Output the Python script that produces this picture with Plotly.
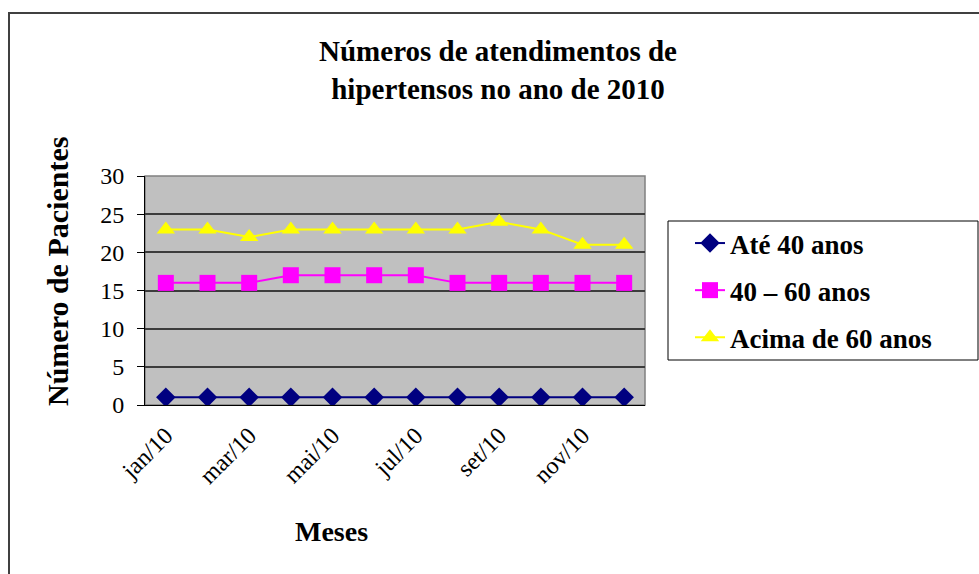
import plotly.graph_objects as go

# Monthly counts of hypertensive patients seen in 2010, by age band
meses = ["jan/10", "fev/10", "mar/10", "abr/10", "mai/10", "jun/10",
         "jul/10", "ago/10", "set/10", "out/10", "nov/10", "dez/10"]
ate_40 = [1, 1, 1, 1, 1, 1, 1, 1, 1, 1, 1, 1]
de_40_a_60 = [16, 16, 16, 17, 17, 17, 17, 16, 16, 16, 16, 16]
acima_60 = [23, 23, 22, 23, 23, 23, 23, 23, 24, 23, 21, 21]

series_names = ["Até 40 anos", "40 – 60 anos", "Acima de 60 anos"]
series_values = [ate_40, de_40_a_60, acima_60]
series_colors = ["#000080", "#FF00FF", "#FFFF00"]
series_symbols = ["diamond", "square", "triangle-up"]
series_sizes = [15, 16, 16]

SERIF = "'Times New Roman', 'Liberation Serif', serif"

idx = list(range(len(meses)))
label_idx = idx[::2]
label_text = [meses[i] for i in label_idx]
# tick marks sit on the boundaries between every second month
boundary_ticks = [i - 0.5 for i in idx[::2]] + [idx[-1] + 0.5]

fig = go.Figure()
for k, (name, vals, col, sym, sz) in enumerate(
        zip(series_names, series_values, series_colors, series_symbols, series_sizes)):
    fig.add_trace(go.Scatter(
        x=idx, y=vals, name=f"<b>{name}</b>", mode="lines+markers",
        line=dict(color=col, width=2),
        marker=dict(symbol=sym, size=sz, color=col, line=dict(width=0)),
        legendgroup=f"g{k}",
    ))

W, H = 979, 574
L, R, T, B = 145, 334, 176, 169
pw, ph = W - L - R, H - T - B


def px_x(p):
    return (p - L) / pw


def px_y(p):
    return (H - B - p) / ph


fig.update_layout(
    width=W, height=H,
    margin=dict(l=L, r=R, t=T, b=B),
    paper_bgcolor="white",
    plot_bgcolor="#C0C0C0",
    font=dict(family=SERIF, color="black"),
    title=dict(
        text="<b>Números de atendimentos de<br>hipertensos no ano de 2010</b>",
        x=498 / W, xanchor="center", xref="container",
        y=1 - 61 / H, yanchor="top",
        font=dict(family=SERIF, size=29, color="black"),
    ),
    xaxis=dict(
        range=[-0.5, len(meses) - 0.5],
        tickmode="array", tickvals=label_idx, ticktext=label_text,
        tickangle=-45, ticks="", showgrid=False, zeroline=False,
        showline=True, linecolor="black", linewidth=1,
        tickfont=dict(family=SERIF, size=24, color="black"),
        ticklabelstandoff=6,
    ),
    xaxis2=dict(
        overlaying="x", anchor="y", side="bottom",
        range=[-0.5, len(meses) - 0.5],
        tickmode="array", tickvals=boundary_ticks,
        ticks="outside", ticklen=7, tickcolor="black", tickwidth=1,
        showticklabels=False, showgrid=False, zeroline=False, showline=False,
    ),
    yaxis=dict(
        range=[0, 30], dtick=5, tick0=0,
        showgrid=True, gridcolor="#3C3C3C", gridwidth=1.5,
        zeroline=False, showline=True, linecolor="black", linewidth=1,
        ticks="outside", ticklen=7, tickcolor="black",
        tickfont=dict(family=SERIF, size=24, color="black"),
        ticklabelstandoff=8,
    ),
    legend=dict(
        x=px_x(690), y=px_y(219), xanchor="left", yanchor="top",
        bgcolor="rgba(0,0,0,0)", borderwidth=0,
        font=dict(family=SERIF, size=27, color="black"),
        tracegroupgap=9,
        traceorder="grouped",
    ),
    showlegend=True,
    annotations=[
        dict(text="<b>Número de Pacientes</b>", textangle=-90,
             xref="paper", yref="paper", x=px_x(57), y=px_y(272),
             xanchor="center", yanchor="middle", showarrow=False,
             font=dict(family=SERIF, size=30, color="black")),
        dict(text="<b>Meses</b>",
             xref="paper", yref="paper", x=px_x(331), y=px_y(531),
             xanchor="center", yanchor="middle", showarrow=False,
             font=dict(family=SERIF, size=28, color="black")),
    ],
    shapes=[
        # plot-area frame (grey on the right)
        dict(type="rect", xref="paper", yref="paper", x0=0, y0=0, x1=1, y1=1,
             line=dict(color="#808080", width=1.5), layer="below"),
        # legend box
        dict(type="rect", xref="paper", yref="paper",
             x0=px_x(668), y0=px_y(360), x1=px_x(978), y1=px_y(221),
             line=dict(color="black", width=1), fillcolor="white",
             layer="above"),
        # chart-area frame, running off the right and bottom edges
        dict(type="rect", xref="paper", yref="paper",
             x0=px_x(9), y0=px_y(595), x1=px_x(995), y1=px_y(13),
             line=dict(color="#404040", width=2)),
    ],
)

fig.write_html("out.html")
